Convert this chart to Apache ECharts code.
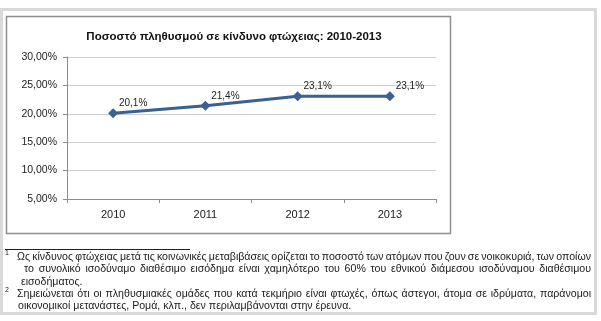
<!DOCTYPE html>
<html>
<head>
<meta charset="utf-8">
<script src="https://cdn.jsdelivr.net/npm/echarts@6/dist/echarts.min.js"></script>
<style>
  html, body { margin: 0; padding: 0; background: #fff; }
  #chart { width: 601px; height: 321px; }
</style>
</head>
<body>
<div id="chart"></div>
<script>
// Poverty-risk share of the population, 2010-2013
const years = ['2010', '2011', '2012', '2013'];
const povertyRate = [20.1, 21.4, 23.1, 23.1];
const yTicks = { min: 5, max: 30, step: 5 };

const chartTitle = 'Ποσοστό πληθυσμού σε κίνδυνο φτώχειας: 2010-2013';

// Footnote lines: [marker, text, justified]
const footnoteLines = [
  ['1', 'Ως κίνδυνος φτώχειας μετά τις κοινωνικές μεταβιβάσεις ορίζεται το ποσοστό των ατόμων που ζουν σε νοικοκυριά, των οποίων', true],
  ['', 'το συνολικό ισοδύναμο διαθέσιμο εισόδημα είναι χαμηλότερο του 60% του εθνικού διάμεσου ισοδύναμου διαθέσιμου', true],
  ['', 'εισοδήματος.', false],
  ['2', 'Σημειώνεται ότι οι πληθυσμιακές ομάδες που κατά τεκμήριο είναι φτωχές, όπως άστεγοι, άτομα σε ιδρύματα, παράνομοι', true],
  ['', 'οικονομικοί μετανάστες, Ρομά, κλπ., δεν περιλαμβάνονται στην έρευνα.', false]
];

const FONT = 'Arial, "Liberation Sans", sans-serif';
const lineColor = '#3a6190';
const noteFontSize = 10.6;
const noteStartX = [17, 24, 21, 17, 18];
const noteY = [257, 269, 282, 294, 306];
const noteRight = 591;

const measureCtx = document.createElement('canvas').getContext('2d');
measureCtx.font = noteFontSize + 'px ' + FONT;

// Lay out one footnote line, spreading words to the right margin when justified
function noteLineElements(text, x0, y, justify) {
  const style = { fill: '#1a1a1a', font: noteFontSize + 'px ' + FONT, textVerticalAlign: 'middle' };
  if (!justify) {
    return [{ type: 'text', x: x0, y: y, style: Object.assign({ text: text }, style) }];
  }
  const words = text.split(' ');
  const widths = words.map(w => measureCtx.measureText(w).width);
  const total = widths.reduce((a, b) => a + b, 0);
  const gap = (noteRight - x0 - total) / (words.length - 1);
  const els = [];
  let x = x0;
  words.forEach((w, i) => {
    els.push({ type: 'text', x: x, y: y, style: Object.assign({ text: w }, style) });
    x += widths[i] + gap;
  });
  return els;
}

const graphics = [
  // outer page frame
  { type: 'rect', shape: { x: 1.5, y: 9.5, width: 594, height: 304 },
    style: { fill: 'none', stroke: '#d9d9d9', lineWidth: 3 }, z: -10 },
  // chart box
  { type: 'rect', shape: { x: 6.5, y: 16.5, width: 444, height: 217 },
    style: { fill: 'none', stroke: '#8f8f8f', lineWidth: 1.5 }, z: -9 },
  // footnote separator
  { type: 'line', shape: { x1: 5, y1: 249.5, x2: 190, y2: 249.5 },
    style: { stroke: '#222', lineWidth: 1 } }
];

footnoteLines.forEach((ln, i) => {
  if (ln[0]) {
    graphics.push({ type: 'text', x: 5, y: noteY[i] - 4,
      style: { text: ln[0], fill: '#222', font: '7px ' + FONT, textVerticalAlign: 'middle' } });
  }
  noteLineElements(ln[1], noteStartX[i], noteY[i], ln[2]).forEach(e => graphics.push(e));
});

const chart = echarts.init(document.getElementById('chart'), null, { renderer: 'canvas' });

chart.setOption({
  animation: false,
  backgroundColor: '#fff',
  title: {
    text: chartTitle,
    left: 229, top: 26, textAlign: 'center',
    textStyle: { fontFamily: FONT, fontSize: 11.5, fontWeight: 'bold', color: '#111' }
  },
  grid: { left: 67, right: 165, top: 57, bottom: 122 },
  xAxis: {
    type: 'category',
    data: years,
    boundaryGap: true,
    axisLine: { lineStyle: { color: '#8c8c8c', width: 1 } },
    axisTick: { show: true, length: 4, lineStyle: { color: '#8c8c8c' } },
    axisLabel: { fontFamily: FONT, fontSize: 11, color: '#222', margin: 10 },
    splitLine: { show: false }
  },
  yAxis: {
    type: 'value',
    min: yTicks.min, max: yTicks.max, interval: yTicks.step,
    axisLine: { show: true, lineStyle: { color: '#8c8c8c', width: 1 } },
    axisTick: { show: true, length: 4, lineStyle: { color: '#8c8c8c' } },
    axisLabel: {
      fontFamily: FONT, fontSize: 10.5, color: '#222', margin: 10,
      formatter: v => v.toFixed(2).replace('.', ',') + '%'
    },
    splitLine: { show: true, lineStyle: { color: '#cfcfcf', width: 1 } }
  },
  series: [{
    type: 'line',
    data: povertyRate,
    symbol: 'diamond',
    symbolSize: 10,
    lineStyle: { color: lineColor, width: 3 },
    itemStyle: { color: lineColor },
    label: {
      show: true,
      position: 'top',
      distance: 0,
      offset: [20, 0],
      fontFamily: FONT, fontSize: 10, color: '#222',
      formatter: p => p.value.toFixed(1).replace('.', ',') + '%'
    }
  }],
  graphic: graphics
});
</script>
</body>
</html>
